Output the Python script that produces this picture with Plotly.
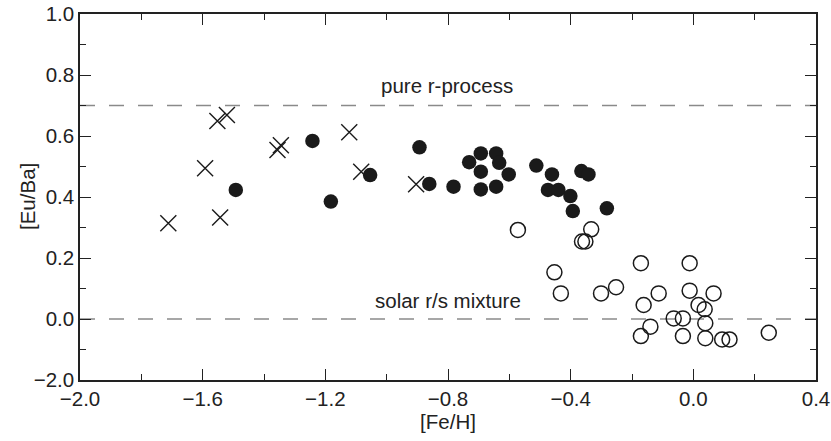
import plotly.graph_objects as go

# Crosses
cross_feh = [-1.712, -1.543, -1.592, -1.552, -1.521, -1.356, -1.345, -1.122, -1.083, -0.904]
cross_euba = [0.314, 0.333, 0.494, 0.649, 0.669, 0.554, 0.570, 0.612, 0.483, 0.442]

# Filled circles
filled_feh = [-1.492, -1.242, -1.182, -1.054, -0.893, -0.861, -0.782, -0.731, -0.693, -0.693,
              -0.693, -0.643, -0.633, -0.643, -0.602, -0.512, -0.461, -0.474, -0.440, -0.401,
              -0.393, -0.365, -0.342, -0.282]
filled_euba = [0.423, 0.584, 0.385, 0.472, 0.563, 0.443, 0.434, 0.514, 0.543, 0.483,
               0.425, 0.543, 0.512, 0.434, 0.474, 0.503, 0.474, 0.423, 0.423, 0.403,
               0.354, 0.485, 0.474, 0.363]

# Open circles
open_feh = [-0.572, -0.333, -0.363, -0.352, -0.453, -0.432, -0.301, -0.252, -0.171, -0.012,
            -0.113, -0.012, 0.066, -0.162, 0.017, 0.037, -0.064, -0.034, 0.039, -0.140,
            -0.171, -0.034, 0.039, 0.094, 0.118, 0.246]
open_euba = [0.292, 0.294, 0.254, 0.254, 0.153, 0.084, 0.084, 0.104, 0.183, 0.183,
             0.084, 0.093, 0.084, 0.046, 0.046, 0.032, 0.002, 0.002, -0.014, -0.025,
             -0.056, -0.056, -0.063, -0.067, -0.067, -0.045]

ref_levels = [0.7, 0.0]
ref_labels = ["pure r-process", "solar r/s mixture"]
ref_label_x = [-0.803, -0.80]
ref_label_y = [0.767, 0.062]

x_tickvals = [-2.0, -1.6, -1.2, -0.8, -0.4, 0.0, 0.4]
x_ticktext = ["\u22122.0", "\u22121.6", "\u22121.2", "\u22120.8", "\u22120.4", "0.0", "0.4"]
y_tickvals = [-0.2, 0.0, 0.2, 0.4, 0.6, 0.8, 1.0]
y_ticktext = ["\u22122.0", "0.0", "0.2", "0.4", "0.6", "0.8", "1.0"]

FONT = "Arial, 'Liberation Sans', Helvetica, sans-serif"
FS = 20.5

fig = go.Figure()

for lv in ref_levels:
    fig.add_shape(type="line", xref="paper", x0=0, x1=1, yref="y", y0=lv, y1=lv,
                  line=dict(color="#8a8a8a", width=1.6, dash="15px,14px"), layer="below")

fig.add_trace(go.Scatter(x=open_feh, y=open_euba, mode="markers",
                         marker=dict(symbol="circle-open", size=15, color="#1a1a1a",
                                     line=dict(width=1.5, color="#1a1a1a")),
                         showlegend=False))
fig.add_trace(go.Scatter(x=filled_feh, y=filled_euba, mode="markers",
                         marker=dict(symbol="circle", size=14.5, color="#1a1a1a",
                                     line=dict(width=0)),
                         showlegend=False))
fig.add_trace(go.Scatter(x=cross_feh, y=cross_euba, mode="markers",
                         marker=dict(symbol="x-thin", size=16, color="#1a1a1a",
                                     line=dict(width=1.4, color="#1a1a1a")),
                         showlegend=False))

for t, xx, yy in zip(ref_labels, ref_label_x, ref_label_y):
    fig.add_annotation(x=xx, y=yy, text=t, showarrow=False,
                       font=dict(family=FONT, size=FS, color="#222"))

# y-axis title as rotated annotation
fig.add_annotation(xref="paper", yref="paper", x=-0.072, y=0.5, text="[Eu/Ba]",
                   textangle=-90, showarrow=False, xanchor="center", yanchor="middle",
                   font=dict(family=FONT, size=FS, color="#222"))

axis_common = dict(showline=True, linecolor="#222", linewidth=1.5, mirror="ticks",
                   ticks="inside", ticklen=11, tickwidth=1.3, tickcolor="#222",
                   showgrid=False, zeroline=False, automargin=False,
                   tickfont=dict(family=FONT, size=FS, color="#222"))

fig.update_xaxes(range=[-2.0, 0.4], tickvals=x_tickvals, ticktext=x_ticktext,
                 minor=dict(dtick=0.2, tick0=-2.0, ticks="inside", ticklen=6,
                            tickwidth=1.2, tickcolor="#222"),
                 title=dict(text="[Fe/H]", font=dict(family=FONT, size=FS, color="#222"),
                            standoff=4),
                 **axis_common)
fig.update_yaxes(range=[-0.2, 1.0], tickvals=y_tickvals, ticktext=y_ticktext,
                 minor=dict(dtick=0.1, tick0=0.0, ticks="inside", ticklen=6,
                            tickwidth=1.2, tickcolor="#222"),
                 **axis_common)

fig.update_layout(width=831, height=441, margin=dict(l=80, r=15, t=14, b=61),
                  plot_bgcolor="white", paper_bgcolor="white", showlegend=False)

fig.write_html("out.html")
